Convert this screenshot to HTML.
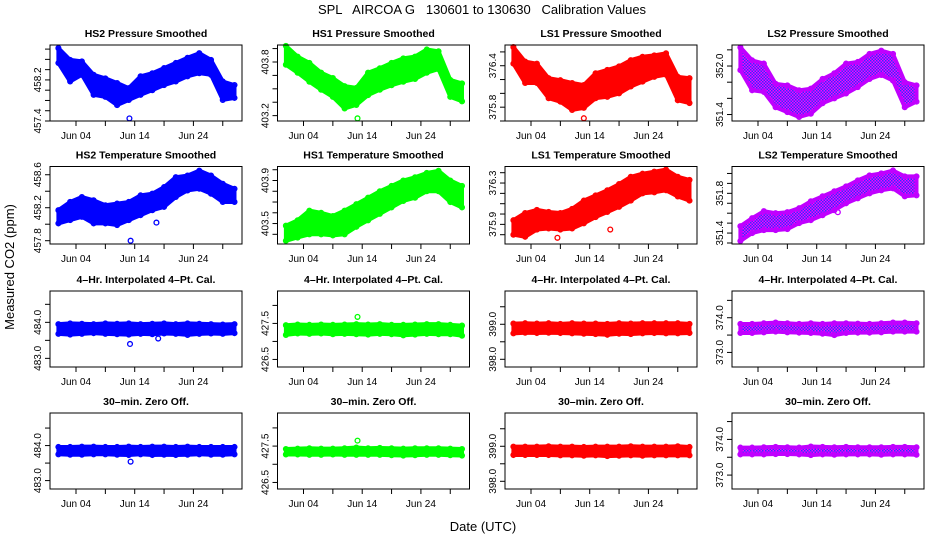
<!DOCTYPE html>
<html><head><meta charset="utf-8">
<style>
html,body{margin:0;padding:0;background:#fff;}
svg{display:block;font-family:"Liberation Sans",Arial,sans-serif;}
</style></head>
<body>
<svg id="chart" width="936" height="540" viewBox="0 0 936 540" xmlns="http://www.w3.org/2000/svg">
<defs>
<pattern id="ls2pat" width="3" height="3" patternUnits="userSpaceOnUse">
<rect width="3" height="3" fill="#ff00ff"/><rect width="1.5" height="1.5" fill="#3030ff"/><rect x="1.5" y="1.5" width="1.5" height="1.5" fill="#3030ff"/>
</pattern>
</defs>
<rect width="936" height="540" fill="#fff"/>
<text x="482" y="14" font-size="13" text-anchor="middle" style="white-space:pre" xml:space="preserve">SPL   AIRCOA G   130601 to 130630   Calibration Values</text>
<text x="14" y="267" font-size="13" text-anchor="middle" transform="rotate(-90 14 267)">Measured CO2 (ppm)</text>
<text x="483" y="531" font-size="13" text-anchor="middle">Date (UTC)</text>
<g id="panels"></g>
</svg>
<script>
// shared day samples (day of June)
const days = [1,3,5,7,9,11,13,15,17,19,21,23,25,27,29,31];
const xTickDays = [4,9,14,19,24,29];
const xTickLabels = ["Jun 04","","Jun 14","","Jun 24",""];

// Row 1: pressure smoothed
const hs2pHi = [458.82,458.59,458.56,458.30,458.23,458.14,458.04,458.27,458.33,458.43,458.53,458.63,458.72,458.59,458.17,458.10];
const hs2pLo = [458.53,458.17,458.30,457.91,457.87,457.71,457.81,457.91,458.00,458.10,458.17,458.27,458.33,458.30,457.81,457.85];
const hs1pHi = [403.98,403.86,403.79,403.68,403.62,403.53,403.51,403.68,403.73,403.79,403.84,403.86,403.94,403.92,403.60,403.56];
const hs1pLo = [403.77,403.68,403.58,403.49,403.41,403.28,403.32,403.43,403.49,403.54,403.58,403.61,403.68,403.72,403.41,403.36];
const ls1pHi = [376.67,376.46,376.43,376.22,376.19,376.15,376.12,376.29,376.34,376.39,376.48,376.53,376.55,376.58,376.24,376.22];
const ls1pLo = [376.43,376.15,376.15,375.93,375.88,375.76,375.79,375.93,375.95,376.00,376.10,376.17,376.24,376.27,375.90,375.86];
const ls2pHi = [352.23,352.07,352.03,351.78,351.76,351.70,351.72,351.84,351.91,352.03,352.05,352.15,352.19,352.15,351.80,351.76];
const ls2pLo = [351.95,351.70,351.68,351.49,351.43,351.37,351.41,351.54,351.60,351.66,351.74,351.84,351.89,351.82,351.49,351.56];
// Row 2: temperature smoothed
const hs2tHi = [458.17,458.27,458.33,458.29,458.23,458.25,458.27,458.35,458.37,458.45,458.57,458.59,458.65,458.59,458.49,458.43];
const hs2tLo = [458.01,458.05,458.09,458.01,458.01,457.99,458.05,458.11,458.17,458.21,458.33,458.41,458.43,458.37,458.27,458.27];
const hs1tHi = [403.48,403.53,403.62,403.60,403.57,403.62,403.68,403.74,403.80,403.85,403.90,403.93,403.97,403.99,403.90,403.85];
const hs1tLo = [403.34,403.37,403.40,403.40,403.39,403.40,403.47,403.53,403.59,403.65,403.71,403.74,403.80,403.80,403.70,403.65];
const ls1tHi = [375.94,376.01,376.04,376.02,376.01,376.05,376.13,376.18,376.23,376.29,376.36,376.39,376.41,376.43,376.36,376.33];
const ls1tLo = [375.80,375.78,375.85,375.86,375.85,375.86,375.91,375.97,376.02,376.07,376.13,376.20,376.21,376.23,376.17,376.13];
const ls2tHi = [351.47,351.55,351.62,351.60,351.61,351.65,351.72,351.77,351.82,351.87,351.93,351.98,352.00,352.03,351.97,351.97];
const ls2tLo = [351.32,351.40,351.43,351.43,351.44,351.50,351.53,351.58,351.63,351.70,351.75,351.80,351.83,351.85,351.77,351.78];
// Row 3: 4-hr interpolated 4-pt cal
const hs2cHi = [483.95,483.97,483.96,483.95,483.97,483.96,483.97,483.95,483.96,483.97,483.95,483.97,483.96,483.95,483.94,483.95];
const hs2cLo = [483.68,483.66,483.68,483.70,483.68,483.67,483.66,483.68,483.67,483.69,483.68,483.65,483.68,483.69,483.68,483.70];
const hs1cHi = [427.45,427.47,427.46,427.47,427.46,427.47,427.48,427.47,427.48,427.46,427.46,427.47,427.48,427.48,427.46,427.44];
const hs1cLo = [427.18,427.22,427.21,427.22,427.20,427.21,427.20,427.19,427.21,427.20,427.17,427.19,427.21,427.20,427.20,427.16];
const ls1cHi = [399.02,399.03,399.02,399.03,399.01,399.03,399.02,399.02,399.01,399.03,399.02,399.03,399.03,399.03,399.03,399.01];
const ls1cLo = [398.74,398.76,398.75,398.76,398.75,398.74,398.73,398.72,398.70,398.73,398.72,398.74,398.75,398.74,398.74,398.75];
const ls2cHi = [373.82,373.82,373.84,373.86,373.84,373.82,373.84,373.82,373.84,373.84,373.83,373.82,373.84,373.86,373.86,373.84];
const ls2cLo = [373.56,373.56,373.58,373.60,373.58,373.57,373.56,373.54,373.50,373.56,373.57,373.57,373.58,373.60,373.60,373.60];
// Row 4: 30-min zero offset
const hs2zHi = [483.96,483.96,483.97,483.97,483.96,483.96,483.97,483.96,483.97,483.97,483.96,483.97,483.96,483.96,483.96,483.96];
const hs2zLo = [483.75,483.74,483.74,483.75,483.75,483.74,483.73,483.75,483.73,483.74,483.73,483.74,483.75,483.74,483.74,483.75];
const hs1zHi = [427.42,427.43,427.44,427.43,427.43,427.44,427.46,427.44,427.45,427.44,427.43,427.44,427.44,427.44,427.43,427.42];
const hs1zLo = [427.27,427.27,427.26,427.26,427.27,427.26,427.26,427.26,427.26,427.25,427.24,427.25,427.26,427.26,427.25,427.24];
const ls1zHi = [398.99,398.99,398.99,399.00,398.99,398.99,398.98,398.99,398.99,398.99,399.00,398.99,398.99,398.99,399.00,398.98];
const ls1zLo = [398.75,398.75,398.75,398.75,398.74,398.74,398.73,398.74,398.72,398.73,398.74,398.73,398.74,398.74,398.74,398.74];
const ls2zHi = [373.77,373.77,373.78,373.79,373.78,373.77,373.80,373.79,373.78,373.79,373.78,373.78,373.78,373.79,373.79,373.78];
const ls2zLo = [373.58,373.58,373.58,373.59,373.59,373.58,373.56,373.58,373.57,373.58,373.58,373.58,373.57,373.58,373.58,373.57];

// outliers: [day, value]
const hs2pOut = [[13.1,457.45]];
const hs1pOut = [[13.2,403.17]];
const ls1pOut = [[13.0,375.64]];
const hs2tOut = [[13.3,457.80],[17.7,458.02]];
const ls1tOut = [[8.5,375.77],[17.5,375.85]];
const ls2tOut = [[17.6,351.61]];
const hs2cOut = [[13.2,483.40],[18.0,483.55]];
const hs1cOut = [[13.2,427.68]];
const hs2zOut = [[13.3,483.54]];
const hs1zOut = [[13.2,427.65]];

const titles = ["HS2 Pressure Smoothed","HS1 Pressure Smoothed","LS1 Pressure Smoothed","LS2 Pressure Smoothed",
"HS2 Temperature Smoothed","HS1 Temperature Smoothed","LS1 Temperature Smoothed","LS2 Temperature Smoothed",
"4\u2013Hr. Interpolated 4\u2013Pt. Cal.","4\u2013Hr. Interpolated 4\u2013Pt. Cal.","4\u2013Hr. Interpolated 4\u2013Pt. Cal.","4\u2013Hr. Interpolated 4\u2013Pt. Cal.",
"30\u2013min. Zero Off.","30\u2013min. Zero Off.","30\u2013min. Zero Off.","30\u2013min. Zero Off."];
const his = [hs2pHi,hs1pHi,ls1pHi,ls2pHi,hs2tHi,hs1tHi,ls1tHi,ls2tHi,hs2cHi,hs1cHi,ls1cHi,ls2cHi,hs2zHi,hs1zHi,ls1zHi,ls2zHi];
const los = [hs2pLo,hs1pLo,ls1pLo,ls2pLo,hs2tLo,hs1tLo,ls1tLo,ls2tLo,hs2cLo,hs1cLo,ls1cLo,ls2cLo,hs2zLo,hs1zLo,ls1zLo,ls2zLo];
const outs = [hs2pOut,hs1pOut,ls1pOut,[],hs2tOut,[],ls1tOut,ls2tOut,hs2cOut,hs1cOut,[],[],hs2zOut,hs1zOut,[],[]];
const yTopVals = [458.88,403.99,376.70,352.26,458.70,404.03,376.46,352.07,484.87,428.40,399.95,374.77,484.93,428.41,399.95,374.74];
const yBotVals = [457.40,403.14,375.60,351.32,457.76,403.31,375.71,351.29,482.76,426.29,397.78,372.58,482.76,426.32,397.78,372.61];
const yTicks = [
 [457.4,457.6,457.8,458.0,458.2,458.4,458.6,458.8],[403.2,403.35,403.5,403.65,403.8,403.95],[375.6,375.8,376.0,376.2,376.4,376.6],[351.4,351.6,351.8,352.0,352.2],
 [457.8,458.0,458.2,458.4,458.6],[403.4,403.5,403.6,403.7,403.8,403.9,404.0],[375.8,375.9,376.0,376.1,376.2,376.3,376.4],[351.3,351.4,351.5,351.6,351.7,351.8,351.9,352.0],
 [483.0,483.5,484.0,484.5],[426.5,427.0,427.5,428.0],[398.0,398.5,399.0,399.5],[373.0,373.5,374.0,374.5],
 [483.0,483.5,484.0,484.5],[426.5,427.0,427.5,428.0],[398.0,398.5,399.0,399.5],[373.0,373.5,374.0,374.5]];
const yLabels = [
 ["457.4","458.2"],["403.2","403.8"],["375.8","376.4"],["351.4","352.0"],
 ["457.8","458.2","458.6"],["403.5","403.9"],["375.9","376.3"],["351.4","351.8"],
 ["483.0","484.0"],["426.5","427.5"],["398.0","399.0"],["373.0","374.0"],
 ["483.0","484.0"],["426.5","427.5"],["398.0","399.0"],["373.0","374.0"]];
const colors = ["#0000ff","#00ff00","#ff0000","url(#ls2pat)"];
const strokes = ["#0000ff","#00ff00","#ff0000","#c000ff"];
const names = ["hs2","hs1","ls1","ls2"];
const rowNames = ["pressure","temperature","four-hr-cal","zero-offset"];

const NS = "http://www.w3.org/2000/svg";
const root = document.getElementById("panels");
const colLeft = [50,277.5,505,732];
const rowTop = [45,166.5,291,413];
const rowH = [76,77.5,76,76];
const W = 192;
function mk(tag, attrs, parent){const e=document.createElementNS(NS,tag);for(const k in attrs)e.setAttribute(k,attrs[k]);(parent||root).appendChild(e);return e;}

for(let i=0;i<16;i++){
  const r=Math.floor(i/4), c=i%4;
  const L=colLeft[c], T=rowTop[r], H=rowH[r];
  const xs = d => L + 8.4 + (d-1)*5.87;
  const ys = v => T + (yTopVals[i]-v)/(yTopVals[i]-yBotVals[i])*H;
  const g = mk("g",{});
  
  
  const t = mk("text",{x:L+W/2,y:T-8,"font-size":"10.5","font-weight":"bold","text-anchor":"middle"},g);
  t.textContent = titles[i];
  
  
  const hi=his[i], lo=los[i];
  let pts=[];
  for(let k=0;k<days.length;k++) pts.push(xs(days[k]).toFixed(1)+","+ys(hi[k]).toFixed(1));
  for(let k=days.length-1;k>=0;k--) pts.push(xs(days[k]).toFixed(1)+","+ys(lo[k]).toFixed(1));
  const band = mk("polygon",{points:pts.join(" "),fill:colors[c],stroke:strokes[c],"stroke-width":"4","stroke-linejoin":"round"},g);
  
  
  for(let k=0;k<days.length;k++){
    const p1 = mk("circle",{cx:xs(days[k]),cy:ys(hi[k]),r:2.4,fill:"none",stroke:strokes[c],"stroke-width":"1.3"},g);
    
    
    const p2 = mk("circle",{cx:xs(days[k]),cy:ys(lo[k]),r:2.4,fill:"none",stroke:strokes[c],"stroke-width":"1.3"},g);
    
    
  }
  for(const o of outs[i]){
    const p = mk("circle",{cx:xs(o[0]),cy:ys(o[1]),r:2.4,fill:"none",stroke:strokes[c],"stroke-width":"1.3"},g);
    
    
  }
  const box = mk("rect",{x:L,y:T,width:W,height:H,fill:"none",stroke:"#000","stroke-width":"1"},g);
  
  
  for(let k=0;k<xTickDays.length;k++){
    const x=xs(xTickDays[k]);
    const tk = mk("line",{x1:x,x2:x,y1:T+H,y2:T+H+5,stroke:"#000"},g);
    
    
    if(xTickLabels[k]){
      const tl = mk("text",{x:x,y:T+H+18,"font-size":"10","text-anchor":"middle"},g);
      tl.textContent = xTickLabels[k];
      
      
    }
  }
  for(const v of yTicks[i]){
    const y=ys(v);
    const tk = mk("line",{x1:L-5,x2:L,y1:y,y2:y,stroke:"#000"},g);
    
    
  }
  for(const s of yLabels[i]){
    const y=ys(parseFloat(s)), x=L-9;
    const tl = mk("text",{x:x,y:y,"font-size":"10","text-anchor":"middle",transform:"rotate(-90 "+x+" "+y+")"},g);
    tl.textContent = s;
    
    
  }
}
</script>
</body></html>
